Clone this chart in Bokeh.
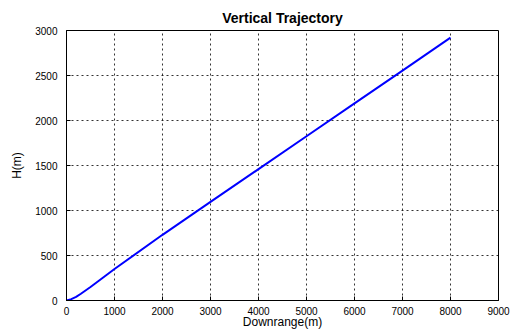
from bokeh.plotting import figure
from bokeh.models import Range1d, SingleIntervalTicker
from bokeh.embed import file_html
from bokeh.resources import INLINE

downrange = [0, 100, 200, 300, 500, 1000, 2000, 3000, 4000, 5000, 6000, 7000, 8000]
height = [0, 15, 40, 75, 150, 350, 730, 1095, 1460, 1825, 2190, 2555, 2920]

p = figure(width=515, height=331, output_backend="svg", toolbar_location=None,
           x_range=Range1d(0, 9000), y_range=Range1d(0, 3000),
           min_border_left=66, min_border_right=17, min_border_top=30, min_border_bottom=30,
           title="Vertical Trajectory")
p.title.align = "center"
p.title.text_font = "Liberation Sans"
p.title.text_font_size = "14px"
p.title.text_font_style = "bold"
p.title.text_color = "black"

p.line(downrange, height, line_color="#0000ff", line_width=2)

p.xaxis.ticker = SingleIntervalTicker(interval=1000)
p.yaxis.ticker = SingleIntervalTicker(interval=500)
p.xaxis.axis_label = "Downrange(m)"
p.yaxis.axis_label = "H(m)"
for ax in (p.xaxis, p.yaxis):
    ax.axis_label_text_font = "Liberation Sans"
    ax.axis_label_text_font_size = "12px"
    ax.axis_label_text_font_style = "normal"
    ax.axis_label_text_color = "black"
    ax.major_label_text_font = "Liberation Sans"
    ax.major_label_text_font_size = "10px"
    ax.major_label_text_color = "black"
    ax.major_tick_in = 4
    ax.major_tick_out = 0
    ax.minor_tick_line_color = None
    ax.axis_line_color = "black"
    ax.major_tick_line_color = "black"
p.xaxis.major_label_standoff = 2
p.xaxis.axis_label_standoff = -3
p.yaxis.major_label_standoff = 5
p.yaxis.axis_label_standoff = 8

p.xgrid.grid_line_color = "black"
p.ygrid.grid_line_color = "black"
p.xgrid.grid_line_dash = "2 3"
p.ygrid.grid_line_dash = "2 3"
p.xgrid.grid_line_alpha = 0.8
p.ygrid.grid_line_alpha = 0.8
p.outline_line_color = "black"
p.outline_line_width = 1
p.background_fill_color = "white"
p.border_fill_color = "white"

open("out.html", "w").write(file_html(p, INLINE))
